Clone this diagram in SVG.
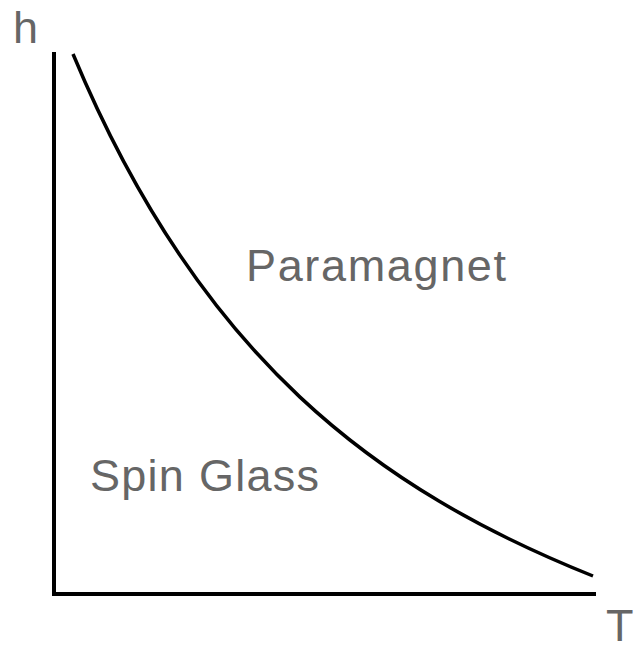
<svg xmlns="http://www.w3.org/2000/svg" width="635" height="651" viewBox="0 0 635 651">
<style>
.lbl{font-family:"Liberation Sans",Arial,sans-serif;font-size:45px;fill:#666666}
.ax{stroke:#000;stroke-width:4;fill:none}
</style>
<rect width="635" height="651" fill="#fff"/>
<g id="axes">
<path class="ax" d="M54,52 V594 H596"/>
</g>
<g id="connectors">
<path d="M73,54 C200,359 378,490 593,576" fill="none" stroke="#000" stroke-width="3.5"/>
</g>
<g id="labels">
<text class="lbl" x="13" y="43">h</text>
<text class="lbl" x="606" y="641">T</text>
<text class="lbl" x="246" y="281" textLength="260">Paramagnet</text>
<text class="lbl" x="90" y="491" textLength="229">Spin Glass</text>
</g>
</svg>
